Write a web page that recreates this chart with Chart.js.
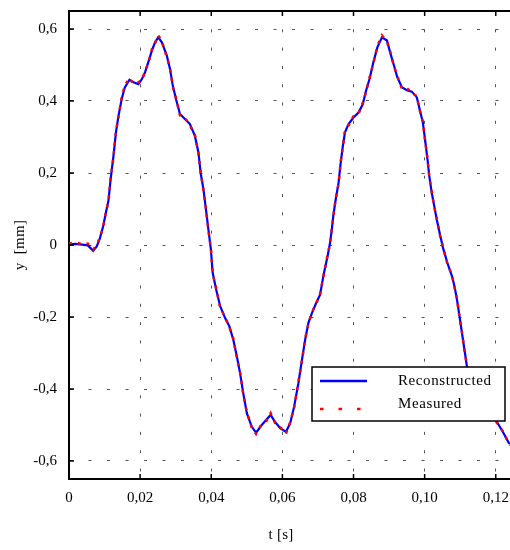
<!DOCTYPE html>
<html>
<head>
<meta charset="utf-8">
<script src="https://cdn.jsdelivr.net/npm/chart.js@4.4.0/dist/chart.umd.min.js"></script>
<style>
body { margin: 0; background: #fff; }
#wrap { width: 510px; height: 550px; position: relative; }
</style>
</head>
<body>
<div id="wrap"><canvas id="grafico"></canvas></div>
<script>
// tempo [s]
const tempo = [0, .0017, .0037, .0053, .0068, .0078, .0087, .0096, .0104, .0111,
  .0117, .0125, .0132, .0139, .0148, .0157, .0170, .0181, .0195, .0205,
  .0214, .0223, .0233, .0242, .0251, .0261, .0275, .0284, .0292, .0301,
  .0312, .0326, .0340, .0354, .0364, .0370, .0378, .0385, .0392, .0399,
  .0404, .0414, .0425, .0439, .0451, .0462, .0472, .0481, .0490, .0500,
  .0514, .0526, .0542, .0556, .0567, .0579, .0594, .0610, .0622, .0633,
  .0645, .0655, .0664, .0673, .0683, .0695, .0706, .0716, .0727, .0734,
  .0739, .0743, .0750, .0758, .0764, .0770, .0776, .0786, .0800, .0814,
  .0826, .0835, .0845, .0856, .0867, .0880, .0894, .0903, .0914, .0923,
  .0936, .0950, .0964, .0978, .0987, .0995, .1001, .1008, .1013, .1020,
  .1027, .1034, .1044, .1053, .1064, .1077, .1084, .1091, .1098, .1105,
  .1112, .1119, .1134, .1156, .1179, .1193, .1203, .1222, .1236, .1240];

// y [mm]
const reconstruido = [0.001, 0.003, 0.001, -0.001, -0.016, -0.004, 0.019, 0.052, 0.091, 0.124,
  0.182, 0.247, 0.313, 0.358, 0.405, 0.438, 0.459, 0.452, 0.447, 0.461,
  0.480, 0.508, 0.540, 0.563, 0.577, 0.563, 0.526, 0.489, 0.442, 0.405,
  0.364, 0.350, 0.336, 0.303, 0.257, 0.201, 0.155, 0.099, 0.043, -0.013,
  -0.077, -0.124, -0.170, -0.203, -0.226, -0.263, -0.310, -0.356, -0.412, -0.467,
  -0.505, -0.521, -0.500, -0.484, -0.472, -0.491, -0.509, -0.519, -0.495, -0.449,
  -0.384, -0.319, -0.263, -0.217, -0.189, -0.161, -0.138, -0.082, -0.031, 0.006,
  0.043, 0.080, 0.127, 0.173, 0.229, 0.275, 0.313, 0.336, 0.354, 0.368,
  0.391, 0.428, 0.461, 0.508, 0.549, 0.577, 0.568, 0.535, 0.498, 0.466,
  0.438, 0.430, 0.426, 0.410, 0.373, 0.340, 0.294, 0.238, 0.192, 0.145,
  0.108, 0.071, 0.025, -0.013, -0.050, -0.087, -0.115, -0.152, -0.198, -0.245,
  -0.291, -0.338, -0.377, -0.419, -0.455, -0.475, -0.491, -0.523, -0.549, -0.553];

const medido = [0.004, 0.008, 0.002, 0.004, -0.012, -0.002, 0.022, 0.048, 0.094, 0.120,
  0.186, 0.243, 0.317, 0.354, 0.409, 0.444, 0.464, 0.447, 0.452, 0.456,
  0.484, 0.504, 0.544, 0.560, 0.583, 0.566, 0.522, 0.492, 0.438, 0.408,
  0.360, 0.354, 0.332, 0.306, 0.254, 0.204, 0.152, 0.102, 0.040, -0.010,
  -0.080, -0.121, -0.174, -0.200, -0.229, -0.260, -0.313, -0.353, -0.415, -0.464,
  -0.508, -0.525, -0.497, -0.488, -0.467, -0.494, -0.506, -0.524, -0.492, -0.452,
  -0.381, -0.322, -0.260, -0.220, -0.186, -0.164, -0.135, -0.085, -0.028, 0.003,
  0.046, 0.077, 0.130, 0.170, 0.232, 0.272, 0.317, 0.332, 0.358, 0.364,
  0.395, 0.424, 0.465, 0.505, 0.553, 0.582, 0.565, 0.538, 0.495, 0.470,
  0.434, 0.436, 0.422, 0.414, 0.370, 0.343, 0.291, 0.241, 0.189, 0.148,
  0.105, 0.074, 0.022, -0.010, -0.053, -0.084, -0.118, -0.149, -0.201, -0.242,
  -0.294, -0.335, -0.380, -0.416, -0.458, -0.472, -0.494, -0.520, -0.552, -0.556];

const xTicks = [0, 0.02, 0.04, 0.06, 0.08, 0.10, 0.12];
const xTickLabels = ['0', '0,02', '0,04', '0,06', '0,08', '0,10', '0,12'];
const yTicks = [-0.6, -0.4, -0.2, 0, 0.2, 0.4, 0.6];
const yTickLabels = ['-0,6', '-0,4', '-0,2', '0', '0,2', '0,4', '0,6'];
const legendas = ['Reconstructed', 'Measured'];

const fonte = 'Liberation Serif';

// moldura, ticks para dentro, titulos e legenda
const extras = {
	id: 'extras',
	afterDatasetsDraw(chart) {
		const ctx = chart.ctx;
		const a = chart.chartArea;
		const sx = chart.scales.x;
		const sy = chart.scales.y;
		ctx.save();
		ctx.strokeStyle = '#000';
		ctx.lineWidth = 2;
		ctx.beginPath();
		ctx.moveTo(a.left, a.top);
		ctx.lineTo(a.right, a.top);
		ctx.stroke();

		ctx.lineWidth = 1.5;
		ctx.beginPath();
		xTicks.forEach(v => {
			const px = sx.getPixelForValue(v);
			ctx.moveTo(px, a.bottom); ctx.lineTo(px, a.bottom - 5);
			ctx.moveTo(px, a.top); ctx.lineTo(px, a.top + 5);
		});
		yTicks.forEach(v => {
			const py = sy.getPixelForValue(v);
			ctx.moveTo(a.left, py); ctx.lineTo(a.left + 5, py);
		});
		ctx.stroke();

		// legenda
		ctx.fillStyle = '#fff';
		ctx.fillRect(312, 367, 193, 54);
		ctx.strokeStyle = '#000';
		ctx.lineWidth = 1.5;
		ctx.strokeRect(312, 367, 193, 54);

		ctx.lineWidth = 2.5;
		ctx.strokeStyle = '#0000ff';
		ctx.beginPath();
		ctx.moveTo(320, 381); ctx.lineTo(367, 381);
		ctx.stroke();

		ctx.strokeStyle = '#ff0000';
		ctx.setLineDash([3.5, 15]);
		ctx.beginPath();
		ctx.moveTo(320, 409); ctx.lineTo(362, 409);
		ctx.stroke();
		ctx.setLineDash([]);

		ctx.fillStyle = '#000';
		ctx.font = '15px "' + fonte + '"';
		ctx.letterSpacing = '0.6px';
		ctx.textAlign = 'left';
		ctx.textBaseline = 'middle';
		ctx.fillText(legendas[0], 398, 381);
		ctx.fillText(legendas[1], 398, 404);

		// titulos dos eixos
		ctx.letterSpacing = '0.3px';
		ctx.textAlign = 'center';
		ctx.fillText('t [s]', 281, 535);
		ctx.translate(20, 245);
		ctx.rotate(-Math.PI / 2);
		ctx.fillText('y  [mm]', 0, 0);
		ctx.restore();
	}
};

const ctx = document.getElementById('grafico').getContext('2d');
let myChart = new Chart(ctx, {
	type: 'line',
	data: {
		datasets: [{
			label: legendas[0],
			data: tempo.map((t, i) => ({ x: t, y: reconstruido[i] })),
			borderColor: '#0000ff',
			borderWidth: 2.2,
			pointRadius: 0,
			tension: 0,
			order: 1
		}, {
			label: legendas[1],
			data: tempo.map((t, i) => ({ x: t, y: medido[i] })),
			borderColor: '#ff0000',
			borderWidth: 2.5,
			borderDash: [3, 6],
			pointRadius: 0,
			tension: 0,
			order: 0
		}]
	},
	plugins: [extras],
	options: {
		responsive: true,
		maintainAspectRatio: false,
		animation: false,
		layout: { padding: { top: 11, right: 0, left: 0, bottom: 0 } },
		plugins: {
			legend: { display: false },
			tooltip: { enabled: false }
		},
		scales: {
			x: {
				type: 'linear',
				min: 0,
				max: 0.124,
				afterFit(scale) {
					scale.height = 71;
					scale.paddingLeft = 0;
					scale.paddingRight = 0;
				},
				afterBuildTicks(scale) { scale.ticks = xTicks.map(v => ({ value: v })); },
				grid: {
					color: '#555',
					lineWidth: 1,
					drawTicks: false
				},
				border: { display: true, color: '#000', width: 2, dash: [3, 15.3] },
				ticks: {
					autoSkip: false,
					maxRotation: 0,
					padding: 10,
					color: '#000',
					font: { family: fonte, size: 15 },
					callback: (v, i) => xTickLabels[i]
				}
			},
			y: {
				min: -0.65,
				max: 0.65,
				afterFit(scale) {
					scale.width = 69;
					scale.paddingTop = 0;
					scale.paddingBottom = 0;
				},
				afterBuildTicks(scale) { scale.ticks = yTicks.map(v => ({ value: v })); },
				grid: {
					color: '#555',
					lineWidth: 1,
					drawTicks: false
				},
				border: { display: true, color: '#000', width: 2, dash: [3, 15.5] },
				ticks: {
					padding: 12,
					color: '#000',
					font: { family: fonte, size: 15 },
					callback: (v, i) => yTickLabels[i]
				}
			}
		}
	}
});
</script>
</body>
</html>
